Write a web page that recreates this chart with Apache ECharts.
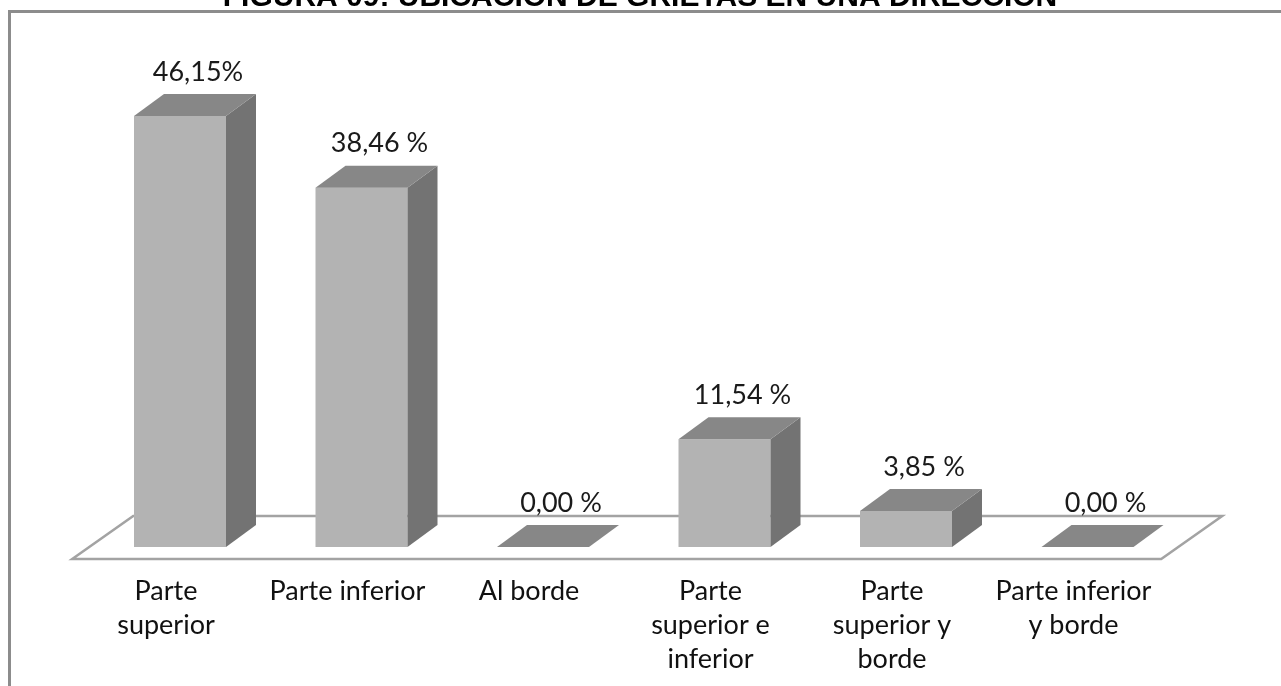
<!DOCTYPE html>
<html>
<head>
<meta charset="utf-8">
<title>Ubicación de grietas en una dirección</title>
<script src="https://cdn.jsdelivr.net/npm/echarts@6/dist/echarts.min.js"></script>
<style>
  html, body { margin: 0; padding: 0; background: #ffffff; }
  #chart { width: 1281px; height: 686px; }
</style>
</head>
<body>
<div id="chart"></div>
<script>
// ---- data ----
const titleText = 'FIGURA 09: UBICACIÓN DE GRIETAS EN UNA DIRECCIÓN';
const categories = [
  'Parte\nsuperior',
  'Parte inferior',
  'Al borde',
  'Parte\nsuperior e\ninferior',
  'Parte\nsuperior y\nborde',
  'Parte inferior\ny borde'
];
const values = [46.15, 38.46, 0.00, 11.54, 3.85, 0.00];
const valueLabels = ['46,15%', '38,46 %', '0,00 %', '11,54 %', '3,85 %', '0,00 %'];

// ---- 3D styling ----
const BAR_W = 92;                 // width of a bar's front face
const BAR_DX = 30, BAR_DY = -22;  // bar depth projection
const FLOOR_DX = 61, FLOOR_DY = -43; // floor depth projection
const FLOOR_FRONT = 12;           // floor front edge below the bars' base
const COL_FRONT = '#b3b3b3', COL_TOP = '#878787', COL_SIDE = '#737373';
const LABEL_FONT = '27px Lato, "Open Sans", sans-serif';

const chart = echarts.init(document.getElementById('chart'), null, { renderer: 'canvas' });

function renderFloor(params, api) {
  const cs = params.coordSys;
  const yb = cs.y + cs.height + FLOOR_FRONT;
  const sx = -FLOOR_FRONT * FLOOR_DX / -FLOOR_DY;
  const l = cs.x + sx, r = cs.x + cs.width + sx;
  return {
    type: 'polygon',
    shape: { points: [[l, yb], [r, yb], [r + FLOOR_DX, yb + FLOOR_DY], [l + FLOOR_DX, yb + FLOOR_DY]] },
    style: { fill: '#ffffff', stroke: '#a3a3a3', lineWidth: 2.5 },
    z2: 0
  };
}

function renderBar(params, api) {
  const i = api.value(0);
  const v = api.value(1);
  const base = api.coord([i, 0]);
  const top = api.coord([i, v]);
  const x0 = base[0] - BAR_W / 2, x1 = base[0] + BAR_W / 2;
  const yb = base[1], yt = top[1];
  const children = [];
  if (yb - yt > 0.5) {
    children.push({
      type: 'rect',
      shape: { x: x0, y: yt, width: BAR_W, height: yb - yt },
      style: { fill: COL_FRONT }
    });
    children.push({
      type: 'polygon',
      shape: { points: [[x1, yt], [x1 + BAR_DX, yt + BAR_DY], [x1 + BAR_DX, yb + BAR_DY], [x1, yb]] },
      style: { fill: COL_SIDE }
    });
  }
  children.push({
    type: 'polygon',
    shape: { points: [[x0, yt], [x0 + BAR_DX, yt + BAR_DY], [x1 + BAR_DX, yt + BAR_DY], [x1, yt]] },
    style: { fill: COL_TOP }
  });
  children.push({
    type: 'text',
    x: base[0] + 18,
    y: yt - 44,
    style: {
      text: valueLabels[params.dataIndex],
      font: LABEL_FONT,
      fill: '#1a1a1a',
      align: 'center',
      verticalAlign: 'middle',
      textAlign: 'center',
      textVerticalAlign: 'middle'
    }
  });
  return { type: 'group', children: children };
}

const option = {
  animation: false,
  backgroundColor: '#ffffff',
  grid: { left: 89.25, right: 102.75, top: 80, bottom: 139 },
  xAxis: {
    type: 'category',
    data: categories,
    axisLine: { show: false },
    axisTick: { show: false },
    splitLine: { show: false },
    axisLabel: {
      interval: 0,
      color: '#111111',
      fontFamily: 'Lato, "Open Sans", sans-serif',
      fontSize: 27,
      lineHeight: 34,
      margin: 27,
      padding: [0, 28, 0, 0]
    }
  },
  yAxis: {
    type: 'value',
    min: 0,
    max: 50,
    show: false
  },
  graphic: [
    {
      type: 'polyline',
      shape: { points: [[9.5, 700], [9.5, 11.5], [1290, 11.5]] },
      style: { stroke: '#8c8c8c', lineWidth: 3, fill: null },
      z: 10
    },
    {
      type: 'text',
      x: 640,
      y: -2,
      style: {
        text: titleText,
        font: 'bold 30px "Liberation Sans", Arial, sans-serif',
        fill: '#000000',
        align: 'center',
        verticalAlign: 'middle',
        textAlign: 'center',
        textVerticalAlign: 'middle'
      },
      z: 10
    }
  ],
  series: [
    {
      type: 'custom',
      name: 'floor',
      renderItem: renderFloor,
      data: [[0, 0]],
      z: 1,
      silent: true
    },
    {
      type: 'custom',
      name: 'bars',
      renderItem: renderBar,
      encode: { x: 0, y: 1 },
      data: values.map(function (v, i) { return [i, v]; }),
      z: 2,
      silent: true
    }
  ]
};

chart.setOption(option);
</script>
</body>
</html>
